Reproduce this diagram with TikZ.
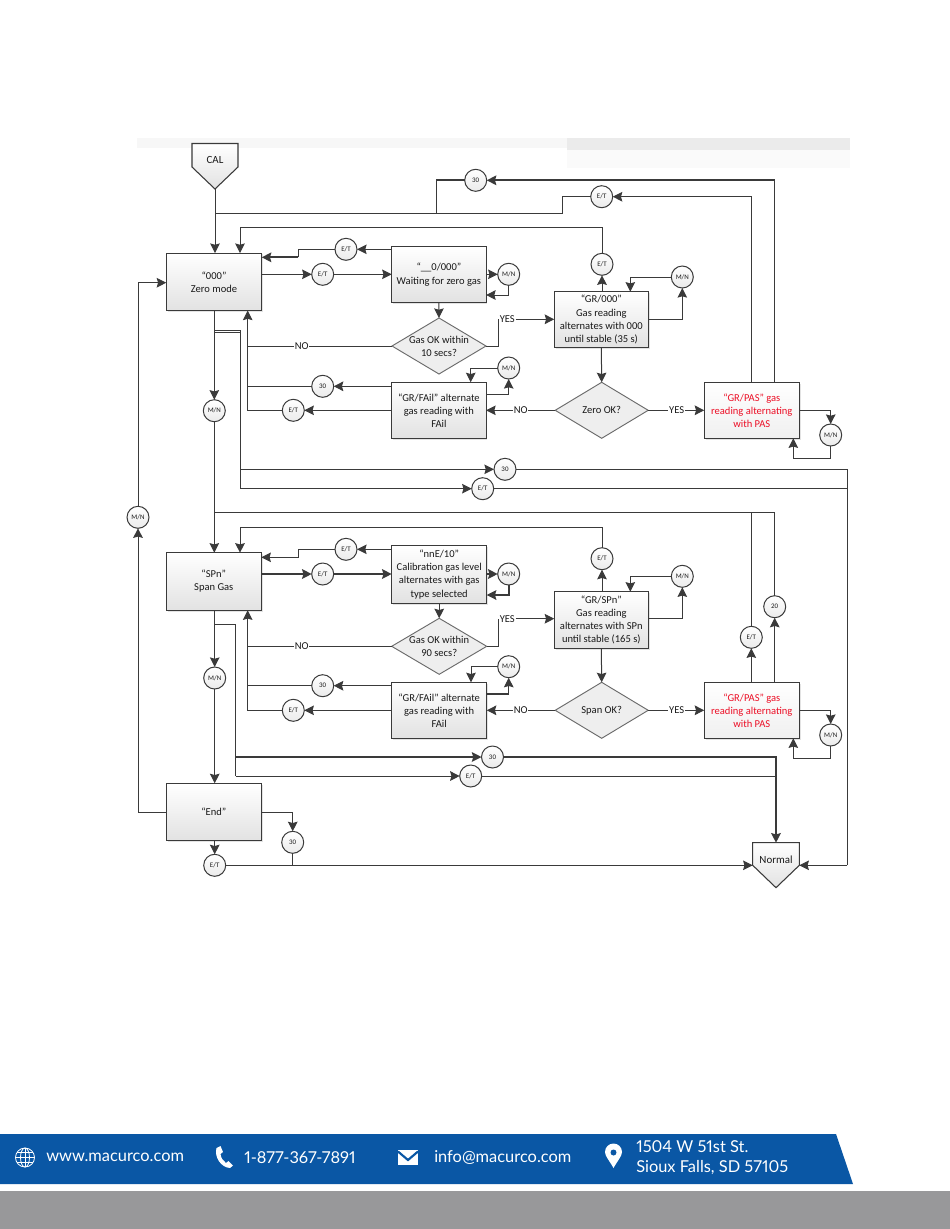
\documentclass[tikz,border=0pt]{standalone}
\usepackage{fontspec}
\setmainfont{Carlito}
\newfontfamily\footfont[Numbers=Proportional]{Lato}
\usetikzlibrary{arrows.meta,shapes.geometric,shadows}
\definecolor{lc}{HTML}{3A3A3A}
\definecolor{boxb}{HTML}{E2E2E2}
\definecolor{dia}{HTML}{EEEEEE}
\definecolor{redt}{HTML}{EC0F26}
\definecolor{blue}{HTML}{0A57A5}
\definecolor{grayband}{HTML}{98989A}
\tikzset{
 x=0.75pt,y=-0.75pt,
 wh/.style 2 args={minimum width=#1*0.75pt,minimum height=#2*0.75pt},
 boxn/.style={rectangle,draw=lc,line width=0.8pt,top color=white,bottom color=boxb,inner sep=0pt,outer sep=0pt,
   align=center,font=\fontsize{7.9}{9.8}\selectfont,text=black!90,drop shadow={opacity=.22,shadow xshift=1pt,shadow yshift=-1pt}},
 heavy/.style={line width=1.15pt},
 redbox/.style={boxn,bottom color=black!6,text=redt},
 dian/.style={diamond,draw=lc!75,line width=0.7pt,fill=dia,inner sep=0pt,outer sep=0pt,aspect=1.68},
 dtxt/.style={align=center,font=\fontsize{7.9}{9.8}\selectfont,text=black!90},
 circ/.style={circle,draw=lc,line width=0.75pt,top color=white,bottom color=black!8,minimum size=16.5pt,inner sep=0pt,outer sep=0pt,
   font=\fontsize{5.2}{5.5}\selectfont,text=black!90},
 lab/.style={inner sep=0.6pt,outer sep=0pt,font=\fontsize{7.9}{9}\selectfont,text=black!90},
 ln/.style={draw=lc,line width=0.75pt},
 th/.style={draw=lc,line width=1.35pt},
 ar/.style={-{Stealth[length=7.2pt,width=7.2pt,inset=1pt]}},
 off/.style={draw=lc,line width=0.8pt,top color=white,bottom color=boxb},
 foot/.style={font=\footfont\fontsize{12.3}{14}\selectfont,text=white,inner sep=0pt,anchor=west},
}
\begin{document}
\begin{tikzpicture}
\useasboundingbox (0,0) rectangle (950,1229);
\fill[white] (0,0) rectangle (950,1229);
% faint bands
\fill[black!3] (137,138) rectangle (567,148);
\fill[black!8] (567,138) rectangle (850,150);
\fill[black!2] (567,150) rectangle (850,168);
% off page shapes
\path[off] (192,143.5) -- (238,143.5) -- (238,167) -- (215,189) -- (192,167) -- cycle;
\path[off] (752.7,842.7) -- (799.3,842.7) -- (799.3,865.3) -- (776,887.7) -- (752.7,865.3) -- cycle;
\coordinate (caltip) at (215,189);
\coordinate (normT) at (776,842.7);
\coordinate (normL) at (752.7,865.3);
\coordinate (normR) at (799.3,865.3);
\node[dtxt,font=\fontsize{8.2}{10}\selectfont] (cal) at (215,160) {CAL};
\node[dtxt,font=\fontsize{8.2}{10}\selectfont] (norm) at (776,859.5) {Normal};
% upper section
\node[boxn,wh={95.4}{57.5}] (zero) at (214,281.8) {“000”\\Zero mode};
\node[boxn,wh={94.3}{55.8}] (wait) at (438.9,274.6) {“\_\_0/000”\\Waiting for zero gas};
\node[dian,wh={94}{56},label={[dtxt]center:Gas OK within\\10 secs?}] (dgA) at (439,346) {};
\node[boxn,wh={94.3}{56}] (fail) at (438.9,410.3) {“GR/FAil” alternate\\gas reading with\\FAil};
\node[boxn,wh={94}{55.6}] (boxG) at (601.3,319.5) {“GR/000”\\Gas reading\\alternates with 000\\until stable (35 s)};
\node[dian,wh={93}{56},label={[dtxt]center:Zero OK?}] (dzA) at (601.7,410.3) {};
\node[redbox,wh={95}{56}] (pasA) at (751.8,410.3) {“GR/PAS” gas\\reading alternating\\with PAS};
\node[circ] (s30top) at (475.7,180.3) {30};
\node[circ] (etTop) at (601.7,196.7) {E/T};
\node[circ] (etA) at (346,249.3) {E/T};
\node[circ] (etB) at (322.7,274.3) {E/T};
\node[circ] (mnA) at (508.7,274.3) {M/N};
\node[circ] (etG) at (602,264.3) {E/T};
\node[circ] (mnG) at (682.3,277) {M/N};
\node[circ] (s30a) at (322.7,386.3) {30};
\node[circ] (etF) at (293.3,410.3) {E/T};
\node[circ] (mnF) at (508.7,368) {M/N};
\node[circ] (mnP) at (830.7,435) {M/N};
\node[circ] (mnZ) at (214.3,410.7) {M/N};
\node[circ] (s30b) at (505,469.3) {30};
\node[circ] (etZ) at (482.7,488.7) {E/T};
\node[lab] (noA) at (301.7,346) {NO};
\node[lab] (yesA) at (507.3,319.3) {YES};
\node[lab] (noB) at (520.7,410.3) {NO};
\node[lab] (yesB) at (676.7,410.3) {YES};
% lower section
\node[boxn,wh={95}{57.6}] (span) at (213.8,581.5) {“SPn”\\Span Gas};
\node[boxn,heavy,wh={95}{57.6}] (cgas) at (439.2,574.5) {“nnE/10”\\Calibration gas level\\alternates with gas\\type selected};
\node[dian,wh={95}{56},label={[dtxt]center:Gas OK within\\90 secs?}] (dgB) at (439.2,646.3) {};
\node[boxn,wh={95}{56}] (failB) at (439.2,710.3) {“GR/FAil” alternate\\gas reading with\\FAil};
\node[boxn,wh={94}{56.6}] (boxS) at (601.3,620) {“GR/SPn”\\Gas reading\\alternates with SPn\\until stable (165 s)};
\node[dian,wh={93}{56},label={[dtxt]center:Span OK?}] (dzB) at (601.7,710.3) {};
\node[redbox,wh={95}{56}] (pasB) at (751.8,710.3) {“GR/PAS” gas\\reading alternating\\with PAS};
\node[boxn,line width=1pt,wh={95}{57.4}] (endb) at (213.8,812) {“End”};
\node[circ] (etC) at (346,549.3) {E/T};
\node[circ] (etD) at (322.7,574) {E/T};
\node[circ] (mnC) at (508.7,574) {M/N};
\node[circ] (etS) at (602,558.7) {E/T};
\node[circ] (mnS2) at (682.3,576.3) {M/N};
\node[circ] (s30e) at (322.7,685.7) {30};
\node[circ] (etH) at (293.3,710.3) {E/T};
\node[circ] (mnH) at (508.7,666.7) {M/N};
\node[circ] (mnQ) at (830.7,735) {M/N};
\node[circ] (etP) at (751.3,637.3) {E/T};
\node[circ] (s20) at (774.7,606.7) {20};
\node[circ] (mnS) at (214.7,678) {M/N};
\node[circ] (s30c) at (492.5,757) {30};
\node[circ] (etE) at (470.7,776) {E/T};
\node[circ] (s30d) at (292.7,842.3) {30};
\node[circ] (etX) at (214.7,865.3) {E/T};
\node[circ] (mnL) at (138,517.3) {M/N};
\node[lab] (noC) at (301.7,646.3) {NO};
\node[lab] (yesC) at (507.3,618.7) {YES};
\node[lab] (noD) at (520.7,710.3) {NO};
\node[lab] (yesD) at (676.7,710.3) {YES};
% connectors, upper
\draw[ln,ar] (caltip) -- (caltip |- zero.north);
\draw[ln,ar] (pasA.north -| etP) |- (etTop.east);
\draw[ln] (pasA.north -| s20) -- (s20 |- s30top);
\draw[th,ar] (s20 |- s30top) -- (s30top.east);
\draw[ln] (etTop.west) -| (562.3,213.3) -- (caltip |- 0,213.3);
\draw[th] (s30top.west) -- (436.3,180.3);
\draw[ln] (436.3,180.3) -- (436.3,213.3);
\draw[ln,ar] (etG.north) |- (240,227.3) -- (zero.north -| 240,0);
\draw[ln,ar] (wait.west |- etA) -- (etA.east);
\draw[ln] (etA.west) -| (298.3,257.3);
\draw[th,ar] (298.3,257.3) -- (zero.east |- 0,257.3);
\draw[ln,ar] (zero.east |- etB) -- (etB.west);
\draw[ln,ar] (etB.east) -- (wait.west |- etB);
\draw[ln,ar] (wait.east |- mnA) -- (mnA.west);
\draw[ln,ar] (mnA.south) |- (wait.east |- 0,295);
\draw[ln,ar] (wait.south) -- (dgA.north);
\draw[ln] (dgA.west) -- (noA.east);
\draw[ln,ar] (noA.west) -| (zero.south -| 247.7,0);
\draw[ln] (dgA.east) -| (yesA.west);
\draw[ln,ar] (yesA.east) -- (boxG.west |- yesA);
\draw[ln,ar] (fail.west |- s30a) -- (s30a.east);
\draw[ln] (s30a.west) -- (247.7,386.3);
\draw[ln,ar] (fail.west |- etF) -- (etF.east);
\draw[ln] (etF.west) -- (247.7,410.3) -- (247.7,346);
\draw[ln,ar] (fail.east |- 0,394.3) -| (mnF.south);
\draw[ln,ar] (mnF.west) -| (fail.north -| 470.7,0);
\draw[ln] (dzA.west) -- (noB.east);
\draw[ln,ar] (noB.west) -- (fail.east |- noB);
\draw[ln] (dzA.east) -- (yesB.west);
\draw[ln,ar] (yesB.east) -- (pasA.west |- yesB);
\draw[ln,ar] (boxG.north -| etG) -- (etG.south);
\draw[ln,ar] (boxG.east |- yesA) -| (mnG.south);
\draw[ln,ar] (mnG.west) -| (boxG.north -| 630.3,0);
\draw[ln,ar] (boxG.south) -- (dzA.north);
\draw[ln,ar] (pasA.east) -| (mnP.north);
\draw[ln,ar] (mnP.south) |- (793.3,458.3) -- (pasA.south -| 793.3,0);
\draw[ln,ar] (zero.south -| mnZ) -- (mnZ.north);
\draw[ln,ar] (mnZ |- 0,330) -- (240,330) -- (240,469.3) -- (s30b.west);
\draw[ln,ar] (mnZ |- 0,332) -- (240,332) -- (240,488.7) -- (etZ.west);
\draw[ln] (s30b.east) -- (847.3,469.3) -- (847.3,865.3);
\draw[ln,ar] (847.3,865.3) -- (normR);
\draw[ln] (etZ.east) -- (847.3,488.7);
\draw[ln,ar] (mnZ.south) -- (span.north -| mnZ);
\draw[ln] (etP.north) |- (mnZ |- 0,512.7);
\draw[ln] (s20.north) |- (mnZ |- 0,512.7);
% connectors, lower
\draw[ln,ar] (etS.north) |- (240,527.3) -- (span.north -| 240,0);
\draw[ln,ar] (cgas.west |- etC) -- (etC.east);
\draw[ln,ar] (etC.west) -| (298.3,557.3) -- (span.east |- 0,557.3);
\draw[th,ar] (span.east |- etD) -- (etD.west);
\draw[th,ar] (etD.east) -- (cgas.west |- etD);
\draw[th,ar] (cgas.east |- mnC) -- (mnC.west);
\draw[th,ar] (mnC.south) |- (cgas.east |- 0,595);
\draw[ln,ar] (cgas.south) -- (dgB.north);
\draw[ln] (dgB.west) -- (noC.east);
\draw[ln,ar] (noC.west) -| (span.south -| 247.7,0);
\draw[ln] (dgB.east) -| (yesC.west);
\draw[ln,ar] (yesC.east) -- (boxS.west |- yesC);
\draw[ln,ar] (failB.west |- s30e) -- (s30e.east);
\draw[ln] (s30e.west) -- (247.7,685.7);
\draw[ln,ar] (failB.west |- etH) -- (etH.east);
\draw[ln] (etH.west) -- (247.7,710.3) -- (247.7,646.3);
\draw[th] (failB.east |- 0,693.7) -- (mnH |- 0,693.7);
\draw[ln,ar] (mnH |- 0,693.7) -- (mnH.south);
\draw[ln,ar] (mnH.west) -| (failB.north -| 471,0);
\draw[ln] (dzB.west) -- (noD.east);
\draw[ln,ar] (noD.west) -- (failB.east |- noD);
\draw[ln] (dzB.east) -- (yesD.west);
\draw[ln,ar] (yesD.east) -- (pasB.west |- yesD);
\draw[ln,ar] (boxS.north -| etS) -- (etS.south);
\draw[ln,ar] (boxS.east |- yesC) -| (mnS2.south);
\draw[ln,ar] (mnS2.west) -| (boxS.north -| 630.3,0);
\draw[ln,ar] (boxS.south) -- (dzB.north);
\draw[ln,ar] (pasB.east) -| (mnQ.north);
\draw[ln,ar] (mnQ.south) |- (793.3,758.3) -- (pasB.south -| 793.3,0);
\draw[ln,ar] (pasB.north -| etP) -- (etP.south);
\draw[ln,ar] (pasB.north -| s20) -- (s20.south);
\draw[ln,ar] (span.south -| mnS) -- (mnS.north);
\draw[ln,ar] (mnS.south) -- (endb.north -| mnS);
\draw[ln] (mnS |- 0,624.7) -- (235.7,624.7) -- (235.7,776);
\draw[th,ar] (235.7,757) -- (s30c.west);
\draw[ln,ar] (235.7,776) -- (etE.west);
\draw[th,ar] (s30c.east) -| (normT);
\draw[ln] (etE.east) -- (776,776);
\draw[ln,ar] (endb.west) -| (mnL.south);
\draw[ln,ar] (mnL.north) |- (zero.west |- 0,282.7);
\draw[ln,ar] (endb.east) -| (s30d.north);
\draw[ln] (s30d.south) -- (s30d |- etX);
\draw[ln,ar] (endb.south -| etX) -- (etX.north);
\draw[ln,ar] (etX.east) -- (normL);
% footer
\fill[blue] (0,1134) -- (836,1134) -- (853,1184) -- (0,1184) -- cycle;
\fill[grayband] (0,1190.5) rectangle (950,1229);
\begin{scope}[white,line width=0.6pt]
 \draw (25,1157.5) circle[radius=9.5];
 \draw (25,1148) -- (25,1167);
 \draw (25,1157.5) ellipse[x radius=4.5,y radius=9.5];
 \draw (15.5,1157.5) -- (34.5,1157.5) (17,1152.5) -- (33,1152.5) (17,1162.5) -- (33,1162.5);
\end{scope}
\fill[white] (216.5,1148) -- (220.5,1146) -- (223,1152) -- (220.5,1154) .. controls (221,1158) and (223,1161) .. (226,1163) -- (228.5,1161) -- (233,1165.5) -- (230,1168) .. controls (221,1167.5) and (214,1157) .. (216.5,1148) -- cycle;
\fill[white] (398,1150) rectangle (418,1165);
\draw[blue,line width=1.6pt] (398,1151.5) -- (408,1160) -- (418,1151.5);
\fill[white] (613.5,1168) .. controls (609,1160) and (605,1156) .. (605,1152) arc[start angle=180,end angle=360,radius=8.5] .. controls (622,1156) and (618,1160) .. (613.5,1168) -- cycle;
\fill[blue] (613.5,1152.5) circle[radius=3];
\node[foot] (fweb) at (46,1157.5) {www.macurco.com};
\node[foot] (fphone) at (244,1157.5) {1-877-367-7891};
\node[foot] (fmail) at (434,1157.5) {info@macurco.com};
\node[foot] (faddr) at (636,1147) {1504 W 51st St.};
\node[foot] (fcity) at (636,1168) {Sioux Falls, SD 57105};
\end{tikzpicture}
\end{document}
